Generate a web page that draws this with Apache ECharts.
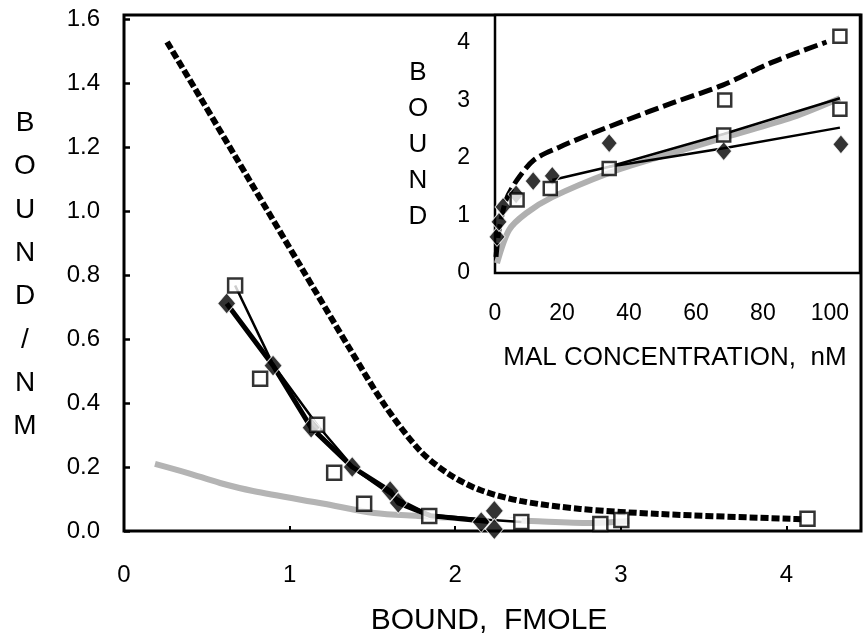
<!DOCTYPE html>
<html>
<head>
<meta charset="utf-8">
<script src="https://cdn.jsdelivr.net/npm/echarts@6/dist/echarts.min.js"></script>
<style>
  html, body { margin: 0; padding: 0; background: #fff; }
  #chart { width: 865px; height: 640px; }
</style>
</head>
<body>
<div id="chart"></div>
<script>
// ---- main plot: bound/nM vs bound (fmole) ----
const mainXTicks = [0, 1, 2, 3, 4];
const mainYTicks = [0, 0.2, 0.4, 0.6, 0.8, 1.0, 1.2, 1.4, 1.6];

// filled diamonds
const mainDiamonds = [
  [0.62, 0.711], [0.90, 0.517], [1.13, 0.323], [1.378, 0.200], [1.607, 0.125],
  [1.656, 0.088], [2.157, 0.028], [2.236, 0.063], [2.236, 0.006]
];
// open squares
const mainSquares = [
  [0.671, 0.767], [0.822, 0.476], [1.166, 0.332], [1.269, 0.182], [1.45, 0.085],
  [1.843, 0.047], [2.399, 0.028], [2.876, 0.022], [3.003, 0.034], [4.127, 0.038]
];
// connecting lines
const mainDiamondLine = [
  [0.62, 0.711], [0.90, 0.517], [1.13, 0.323], [1.378, 0.200], [1.607, 0.125],
  [1.656, 0.088], [1.85, 0.048], [2.20, 0.030]
];
const mainSquareLine = [
  [0.671, 0.767], [0.90, 0.52], [1.166, 0.332], [1.40, 0.19], [1.62, 0.11],
  [1.85, 0.05], [2.20, 0.035], [2.40, 0.028]
];
// fitted curves
const mainDashedCurve = [
  [0.26, 1.528], [0.459, 1.356], [0.761, 1.093], [1.063, 0.83], [1.366, 0.567],
  [1.577, 0.391], [1.789, 0.25], [1.97, 0.175], [2.151, 0.128], [2.393, 0.094],
  [2.755, 0.069], [3.239, 0.053], [4.024, 0.038], [4.10, 0.037]
];
const mainGrayCurve = [
  [0.187, 0.21], [0.381, 0.182], [0.58, 0.15], [0.779, 0.125], [1.208, 0.085],
  [1.511, 0.056], [1.776, 0.047], [2.09, 0.038], [2.459, 0.031], [2.816, 0.025], [3.05, 0.031]
];

// ---- inset: bound vs MAL concentration (nM) ----
const insetXTicks = [0, 20, 40, 60, 80, 100];
const insetYTicks = [0, 1, 2, 3, 4];

const insetDiamonds = [
  [0.6, 0.63], [1.2, 0.89], [2.4, 1.15], [6.3, 1.37], [11.4, 1.60],
  [17.1, 1.69], [34.1, 2.26], [68.3, 2.12], [103.3, 2.24]
];
const insetSquares = [
  [6.6, 1.27], [16.5, 1.47], [34.1, 1.82], [68.3, 2.40], [68.6, 3.01],
  [103, 2.85], [103, 4.12]
];
const insetDashedCurve = [
  [0.3, 0.28], [1.2, 0.75], [3.3, 1.27], [6.6, 1.62], [11.7, 1.97], [19.2, 2.19],
  [29.0, 2.43], [39.2, 2.66], [53.0, 2.96], [68.0, 3.27], [82.9, 3.67], [99, 4.02]
];
const insetGrayCurve = [
  [0.6, 0.17], [4.2, 0.75], [9.3, 1.04], [17.1, 1.32], [34.1, 1.74],
  [49.1, 2.02], [69.2, 2.37], [88.9, 2.71], [103, 3.04]
];
const insetDiamondFit = [[17.1, 1.62], [34.1, 1.85], [68.3, 2.17], [103, 2.53]];
const insetSquareFit = [[34.1, 1.85], [68.3, 2.42], [103, 3.04]];

const FONT = '"Liberation Sans", Arial, Helvetica, sans-serif';

function tickFormatter(ticks, digits) {
  return (v) => {
    const hit = ticks.find((t) => Math.abs(t - v) < 1e-6);
    return hit === undefined ? '' : hit.toFixed(digits);
  };
}

function lineSeries(data, xi, style, z) {
  return {
    type: 'line', xAxisIndex: xi, yAxisIndex: xi, data,
    symbol: 'none', smooth: style.smooth || false, z,
    lineStyle: { color: style.color, width: style.width, type: style.type || 'solid', cap: 'butt' },
    silent: true, animation: false
  };
}

const chart = echarts.init(document.getElementById('chart'), null, { renderer: 'canvas' });

const option = {
  backgroundColor: '#fff',
  animation: false,
  grid: [
    { left: 124, top: 15, width: 737, height: 516, show: true, borderColor: '#000', borderWidth: 3, backgroundColor: 'transparent', z: 0 },
    { left: 495, top: 15, width: 365, height: 258, show: true, borderColor: '#000', borderWidth: 2.5, backgroundColor: '#fff', z: 1 }
  ],
  xAxis: [
    {
      type: 'value', gridIndex: 0, min: 0, max: 4.45, interval: 1,
      axisLine: { show: false }, splitLine: { show: false },
      axisTick: { inside: true, length: 5, lineStyle: { color: '#000', width: 2 } },
      axisLabel: { margin: 32, color: '#000', fontSize: 24, fontFamily: FONT, formatter: tickFormatter(mainXTicks, 0), showMaxLabel: false }
    },
    {
      type: 'value', gridIndex: 1, min: 0, max: 109, interval: 20,
      axisLine: { show: false }, splitLine: { show: false },
      axisTick: { inside: true, length: 5, lineStyle: { color: '#000', width: 2 } },
      axisLabel: { margin: 29, color: '#000', fontSize: 23, fontFamily: FONT, formatter: tickFormatter(insetXTicks, 0), showMaxLabel: false }
    }
  ],
  yAxis: [
    {
      type: 'value', gridIndex: 0, min: 0, max: 1.6125, interval: 0.2,
      axisLine: { show: false }, splitLine: { show: false },
      axisTick: { inside: true, length: 6, lineStyle: { color: '#000', width: 2.5 } },
      axisLabel: { margin: 24, color: '#000', fontSize: 24, fontFamily: FONT, formatter: tickFormatter(mainYTicks, 1), showMaxLabel: false }
    },
    {
      type: 'value', gridIndex: 1, min: 0, max: 4.49, interval: 1,
      axisLine: { show: false }, splitLine: { show: false },
      axisTick: { inside: true, length: 5, lineStyle: { color: '#000', width: 2 } },
      axisLabel: { margin: 25, color: '#000', fontSize: 23, fontFamily: FONT, formatter: tickFormatter(insetYTicks, 0), showMaxLabel: false }
    }
  ],
  graphic: [
    {
      type: 'text', style: {
        x: 489, y: 621, text: 'BOUND,  FMOLE', fill: '#000', font: '30px ' + FONT,
        textAlign: 'center', textVerticalAlign: 'middle'
      }
    },
    {
      type: 'text', style: {
        x: 25, y: 275, text: 'B\nO\nU\nN\nD\n/\nN\nM', fill: '#000', font: '28px ' + FONT,
        lineHeight: 43.3, textAlign: 'center', textVerticalAlign: 'middle'
      }
    },
    {
      type: 'text', style: {
        x: 675, y: 358, text: 'MAL CONCENTRATION,  nM', fill: '#000', font: '26px ' + FONT,
        textAlign: 'center', textVerticalAlign: 'middle'
      }
    },
    {
      type: 'text', style: {
        x: 418, y: 145, text: 'B\nO\nU\nN\nD', fill: '#000', font: '26px ' + FONT,
        lineHeight: 36, textAlign: 'center', textVerticalAlign: 'middle'
      }
    }
  ],
  series: [
    // main plot
    lineSeries(mainGrayCurve, 0, { color: '#b4b4b4', width: 6, smooth: 0.3 }, 2),
    lineSeries(mainDashedCurve, 0, { color: '#000', width: 6, type: [8, 3], smooth: 0.3 }, 3),
    lineSeries(mainSquareLine, 0, { color: '#fff', width: 8 }, 4),
    lineSeries(mainSquareLine, 0, { color: '#000', width: 2.5 }, 5),
    lineSeries(mainDiamondLine, 0, { color: '#000', width: 5 }, 6),
    {
      type: 'scatter', xAxisIndex: 0, yAxisIndex: 0, data: mainDiamonds, z: 7,
      symbol: 'diamond', symbolSize: [18, 21],
      itemStyle: { color: '#000', borderColor: '#fff', borderWidth: 1 }
    },
    {
      type: 'scatter', xAxisIndex: 0, yAxisIndex: 0, data: mainSquares, z: 8,
      symbol: 'rect', symbolSize: 14,
      itemStyle: { color: '#fff', borderColor: '#000', borderWidth: 2.5 }
    },
    // inset
    lineSeries(insetGrayCurve, 1, { color: '#b0b0b0', width: 6, smooth: 0.3 }, 12),
    lineSeries(insetSquareFit, 1, { color: '#000', width: 2.5 }, 13),
    lineSeries(insetDashedCurve, 1, { color: '#000', width: 5, type: [14, 5], smooth: 0.3 }, 13),
    lineSeries(insetDiamondFit, 1, { color: '#000', width: 2.5 }, 14),
    {
      type: 'scatter', xAxisIndex: 1, yAxisIndex: 1, data: insetDiamonds, z: 15,
      symbol: 'diamond', symbolSize: [16, 19],
      itemStyle: { color: '#000', borderColor: '#fff', borderWidth: 1 }
    },
    {
      type: 'scatter', xAxisIndex: 1, yAxisIndex: 1, data: insetSquares, z: 16,
      symbol: 'rect', symbolSize: 13,
      itemStyle: { color: '#fff', borderColor: '#000', borderWidth: 2.5 }
    }
  ]
};

chart.setOption(option);
</script>
</body>
</html>
